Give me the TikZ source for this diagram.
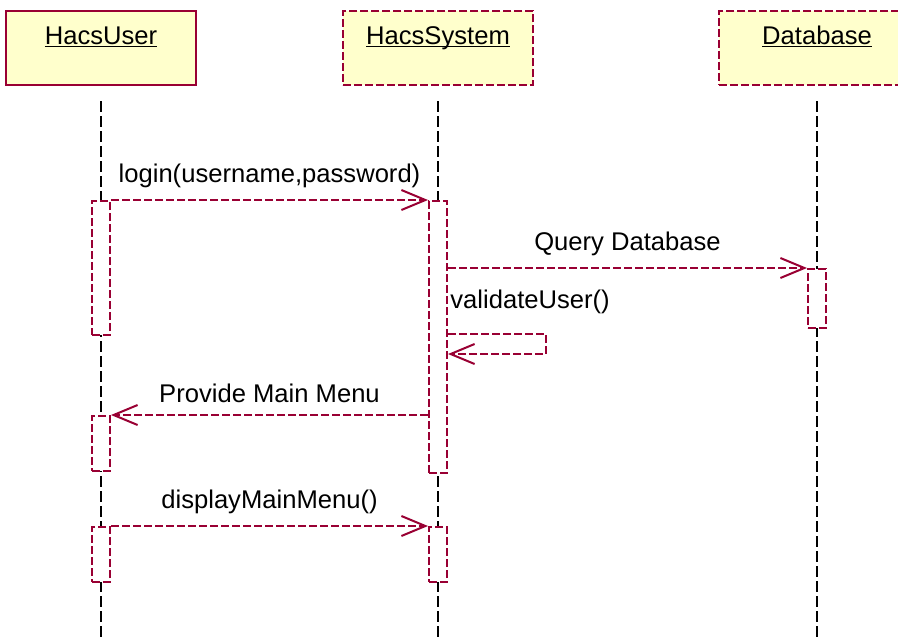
\documentclass[tikz,border=0pt]{standalone}
\usepackage{fontspec}
\setmainfont{Liberation Sans}
\usepackage{tikz}
\usetikzlibrary{arrows.meta}
\usetikzlibrary{positioning}

\definecolor{umlred}{HTML}{990033}
\definecolor{umlfill}{HTML}{FFFFCC}
\newcommand{\objlabel}[1]{\underline{\raisebox{0pt}[\height][0pt]{#1}}}

\tikzset{
  obj/.style={draw=umlred,fill=umlfill,line width=1pt,minimum width=95pt,minimum height=37pt,
              inner sep=0pt,text height=9pt,text depth=13pt},
  objdash/.style={obj,dash pattern=on 4pt off 1.5pt},
  life/.style={black,line width=1pt,dash pattern=on 5.5pt off 2pt},
  act/.style={draw=umlred,fill=white,line width=1pt,dash pattern=on 4pt off 1.5pt,
              minimum width=9pt,minimum height=#1,inner sep=0pt},
  msg/.style={umlred,line width=1pt,dash pattern=on 4pt off 1.5pt,
              -{Straight Barb[length=12pt,width=10pt]}},
  lbl/.style={midway,above=5.5pt,inner sep=0pt,text=black},
}

\begin{document}
\begin{tikzpicture}[x=0.5pt,y=-0.5pt,font=\fontsize{12.8pt}{15pt}\selectfont]
        \useasboundingbox (0,0) rectangle (898,637);
        \clip (0,0) rectangle (898,637);

        % objects
        \node[obj] (user) at (101,48) {\objlabel{HacsUser}};
        \node[objdash] (sys) at (438,48) {\objlabel{HacsSystem}};
        \node[objdash,minimum width=98pt] (db) at (817,48) {\objlabel{Database}};

        % lifelines
        \draw[life] ([yshift=-7.5pt]user.south) -- (user.south |- 0,637);
        \draw[life] ([yshift=-7.5pt]sys.south) -- (sys.south |- 0,637);
        \draw[life] ([yshift=-7.5pt]db.south) -- (db.south |- 0,637);

        % activations
        \node[act=67pt] (u1) at (101,268) {};
        \node[act=27.5pt] (u2) at (101,443.5) {};
        \node[act=27.5pt] (u3) at (101,554.5) {};
        \node[act=136pt] (s1) at (438,337) {};
        \node[act=27.5pt] (s2) at (438,554.5) {};
        \node[act=29.5pt] (d1) at (817,298.5) {};

        % messages
        \draw[msg] (u1.north east) -- node[lbl] {login(username,password)} (s1.north west);
        \draw[msg] (s1.east |- d1.north) -- node[lbl] {Query Database} (d1.north west);

        \node[anchor=west,inner sep=0pt] (val) at (450,302) {validateUser()};
        \coordinate (loopa) at (546,334);
        \coordinate (loopb) at (546,354);
        \draw[msg] (s1.east |- loopa) -- (loopa) -- (loopb) -- (s1.east |- loopb);

        \draw[msg] (s1.west |- u2.north) -- node[lbl] {Provide Main Menu} (u2.north east);
        \draw[msg] (u3.north east) -- node[lbl] {displayMainMenu()} (s2.north west);
\end{tikzpicture}
\end{document}
